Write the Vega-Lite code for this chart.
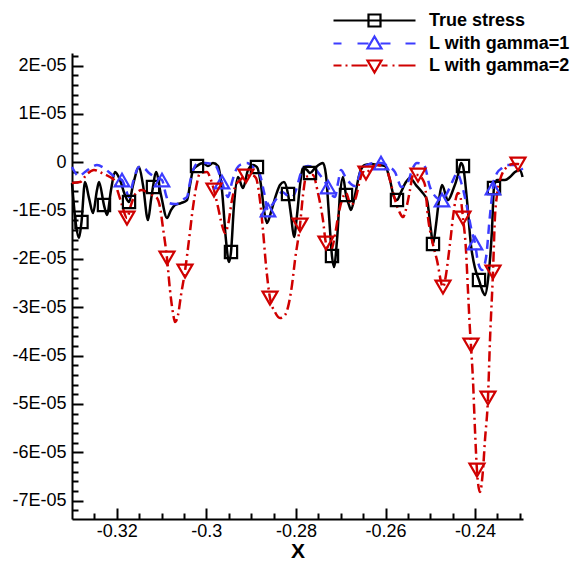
{
  "$schema": "https://vega.github.io/schema/vega-lite/v6.json",
  "width": 451,
  "height": 466,
  "autosize": {"type": "none"},
  "padding": {"left": 72, "top": 53, "right": 47, "bottom": 44},
  "background": "white",
  "config": {"view": {"stroke": null}, "font": "Liberation Sans"},
  "datasets": {
    "ts": [
      {"x":-0.33,"y":-0.430e-5},{"x":-0.32911,"y":-1.299e-5},{"x":-0.32844,"y":-1.568e-5},{"x":-0.32788,"y":-1.237e-5,"m":1},
      {"x":-0.32710,"y":-0.410e-5},{"x":-0.32620,"y":-0.741e-5},{"x":-0.32531,"y":-1.051e-5},{"x":-0.32442,"y":-0.575e-5},
      {"x":-0.32397,"y":-0.410e-5},{"x":-0.32286,"y":-0.886e-5,"m":1},{"x":-0.32219,"y":-1.092e-5},{"x":-0.32129,"y":-0.575e-5},
      {"x":-0.32040,"y":-0.203e-5},{"x":-0.31928,"y":-0.368e-5},{"x":-0.31817,"y":-0.679e-5},{"x":-0.31727,"y":-0.824e-5,"m":1},
      {"x":-0.31638,"y":-0.472e-5},{"x":-0.31504,"y":-0.099e-5},{"x":-0.31415,"y":-0.472e-5},{"x":-0.31303,"y":-1.196e-5},
      {"x":-0.31236,"y":-0.782e-5},{"x":-0.31192,"y":-0.513e-5,"m":1},{"x":-0.31125,"y":-0.203e-5},{"x":-0.31013,"y":-0.679e-5},
      {"x":-0.30879,"y":-1.155e-5},{"x":-0.30790,"y":-0.989e-5},{"x":-0.30700,"y":-0.886e-5},{"x":-0.30566,"y":-0.844e-5},
      {"x":-0.30432,"y":-0.782e-5},{"x":-0.30365,"y":-0.472e-5},{"x":-0.30298,"y":-0.161e-5},{"x":-0.30209,"y":-0.079e-5,"m":1},
      {"x":-0.30075,"y":-0.017e-5},{"x":-0.29964,"y":-0.079e-5},{"x":-0.29852,"y":-0.017e-5},{"x":-0.29740,"y":-0.079e-5},
      {"x":-0.29651,"y":-0.575e-5},{"x":-0.29562,"y":-1.610e-5},{"x":-0.29495,"y":-2.065e-5},{"x":-0.29450,"y":-1.858e-5,"m":1},
      {"x":-0.29383,"y":-0.886e-5},{"x":-0.29294,"y":-0.306e-5},{"x":-0.29182,"y":-0.534e-5},{"x":-0.29070,"y":-0.161e-5},
      {"x":-0.28959,"y":-0.058e-5},{"x":-0.28870,"y":-0.099e-5,"m":1},{"x":-0.28780,"y":-0.472e-5},{"x":-0.28713,"y":-0.989e-5},
      {"x":-0.28646,"y":-1.258e-5},{"x":-0.28557,"y":-1.030e-5},{"x":-0.28445,"y":-0.679e-5},{"x":-0.28356,"y":-0.472e-5},
      {"x":-0.28267,"y":-0.410e-5},{"x":-0.28177,"y":-0.658e-5,"m":1},{"x":-0.28110,"y":-1.092e-5},{"x":-0.28043,"y":-1.548e-5},
      {"x":-0.27976,"y":-1.092e-5},{"x":-0.27909,"y":-0.472e-5},{"x":-0.27842,"y":-0.120e-5},{"x":-0.27753,"y":-0.161e-5},
      {"x":-0.27686,"y":-0.223e-5,"m":1},{"x":-0.27575,"y":-0.120e-5},{"x":-0.27463,"y":-0.037e-5},{"x":-0.27396,"y":-0.017e-5},
      {"x":-0.27329,"y":-0.265e-5},{"x":-0.27262,"y":-1.092e-5},{"x":-0.27195,"y":-1.941e-5,"m":1},{"x":-0.27150,"y":-2.168e-5},
      {"x":-0.27083,"y":-1.610e-5},{"x":-0.27016,"y":-0.679e-5},{"x":-0.26949,"y":-0.306e-5},{"x":-0.26882,"y":-0.679e-5,"m":1},
      {"x":-0.26815,"y":-0.886e-5},{"x":-0.26771,"y":-0.989e-5},{"x":-0.26681,"y":-0.679e-5},{"x":-0.26570,"y":-0.203e-5},
      {"x":-0.26458,"y":-0.058e-5},{"x":-0.26302,"y":-0.037e-5},{"x":-0.26168,"y":-0.058e-5},{"x":-0.26012,"y":-0.079e-5},
      {"x":-0.25900,"y":-0.368e-5},{"x":-0.25811,"y":-0.720e-5},{"x":-0.25744,"y":-0.782e-5,"m":1},{"x":-0.25654,"y":-0.617e-5},
      {"x":-0.25543,"y":-0.410e-5},{"x":-0.25453,"y":-0.327e-5},{"x":-0.25320,"y":-0.472e-5},{"x":-0.25186,"y":-0.617e-5},
      {"x":-0.25074,"y":-0.782e-5},{"x":-0.24985,"y":-1.403e-5},{"x":-0.24940,"y":-1.693e-5,"m":1},{"x":-0.24873,"y":-1.299e-5},
      {"x":-0.24806,"y":-0.782e-5},{"x":-0.24739,"y":-0.472e-5},{"x":-0.24605,"y":-0.782e-5},{"x":-0.24493,"y":-0.575e-5},
      {"x":-0.24382,"y":-0.265e-5},{"x":-0.24315,"y":-0.017e-5},{"x":-0.24270,"y":-0.079e-5,"m":1},{"x":-0.24181,"y":-0.782e-5},
      {"x":-0.24092,"y":-1.713e-5},{"x":-0.24002,"y":-2.189e-5},{"x":-0.23913,"y":-2.437e-5,"m":1},{"x":-0.23824,"y":-2.686e-5},
      {"x":-0.23779,"y":-2.748e-5},{"x":-0.23712,"y":-2.437e-5},{"x":-0.23623,"y":-1.403e-5},{"x":-0.23578,"y":-0.534e-5,"m":1},
      {"x":-0.23511,"y":-0.368e-5},{"x":-0.23444,"y":-0.368e-5},{"x":-0.23332,"y":-0.368e-5},{"x":-0.23221,"y":-0.306e-5},
      {"x":-0.23109,"y":-0.203e-5},{"x":-0.22998,"y":-0.161e-5},{"x":-0.22940,"y":-0.306e-5}
    ],
    "g1": [
      {"x":-0.33,"y":-0.099e-5},{"x":-0.32844,"y":-0.286e-5},{"x":-0.32710,"y":-0.203e-5},{"x":-0.32553,"y":-0.099e-5},
      {"x":-0.32442,"y":-0.058e-5},{"x":-0.32286,"y":-0.120e-5},{"x":-0.32152,"y":-0.223e-5},{"x":-0.32040,"y":-0.306e-5},
      {"x":-0.31884,"y":-0.368e-5,"m":1},{"x":-0.31794,"y":-0.575e-5},{"x":-0.31727,"y":-0.720e-5},{"x":-0.31638,"y":-0.410e-5},
      {"x":-0.31504,"y":-0.099e-5},{"x":-0.31392,"y":-0.120e-5},{"x":-0.31281,"y":-0.223e-5},{"x":-0.31147,"y":-0.306e-5},
      {"x":-0.30991,"y":-0.368e-5,"m":1},{"x":-0.30901,"y":-0.679e-5},{"x":-0.30834,"y":-0.844e-5},{"x":-0.30700,"y":-0.865e-5},
      {"x":-0.30611,"y":-0.844e-5},{"x":-0.30499,"y":-0.761e-5},{"x":-0.30432,"y":-0.720e-5},{"x":-0.30365,"y":-0.410e-5},
      {"x":-0.30276,"y":-0.120e-5},{"x":-0.30187,"y":-0.017e-5},{"x":-0.30031,"y":-0.017e-5},{"x":-0.29807,"y":-0.058e-5},
      {"x":-0.29651,"y":-0.410e-5,"m":1},{"x":-0.29562,"y":-0.658e-5},{"x":-0.29517,"y":-0.720e-5},{"x":-0.29428,"y":-0.410e-5},
      {"x":-0.29316,"y":-0.120e-5},{"x":-0.29204,"y":-0.037e-5},{"x":-0.29093,"y":-0.017e-5},{"x":-0.28937,"y":-0.120e-5},
      {"x":-0.28803,"y":-0.265e-5},{"x":-0.28713,"y":-0.617e-5},{"x":-0.28624,"y":-0.989e-5,"m":1},{"x":-0.28535,"y":-0.886e-5},
      {"x":-0.28423,"y":-0.741e-5},{"x":-0.28311,"y":-0.617e-5},{"x":-0.28200,"y":-0.679e-5},{"x":-0.28088,"y":-0.720e-5},
      {"x":-0.27999,"y":-0.575e-5},{"x":-0.27954,"y":-0.430e-5},{"x":-0.27842,"y":-0.120e-5},{"x":-0.27731,"y":-0.079e-5},
      {"x":-0.27619,"y":-0.099e-5},{"x":-0.27463,"y":-0.265e-5},{"x":-0.27284,"y":-0.513e-5,"m":1},{"x":-0.27195,"y":-0.679e-5},
      {"x":-0.27128,"y":-0.720e-5},{"x":-0.27061,"y":-0.430e-5},{"x":-0.26994,"y":-0.161e-5},{"x":-0.26905,"y":-0.286e-5},
      {"x":-0.26793,"y":-0.430e-5},{"x":-0.26681,"y":-0.492e-5},{"x":-0.26615,"y":-0.368e-5},{"x":-0.26548,"y":-0.161e-5},
      {"x":-0.26414,"y":-0.058e-5},{"x":-0.26257,"y":-0.017e-5},{"x":-0.26101,"y":-0.017e-5,"m":1},{"x":-0.25945,"y":-0.079e-5},
      {"x":-0.25788,"y":-0.203e-5},{"x":-0.25721,"y":-0.368e-5},{"x":-0.25654,"y":-0.513e-5},{"x":-0.25565,"y":-0.472e-5},
      {"x":-0.25498,"y":-0.410e-5},{"x":-0.25409,"y":-0.161e-5},{"x":-0.25297,"y":-0.017e-5},{"x":-0.25141,"y":-0.058e-5},
      {"x":-0.25007,"y":-0.513e-5},{"x":-0.24873,"y":-0.720e-5},{"x":-0.24739,"y":-0.782e-5,"m":1},{"x":-0.24650,"y":-0.679e-5},
      {"x":-0.24560,"y":-0.513e-5},{"x":-0.24471,"y":-0.327e-5},{"x":-0.24404,"y":-0.223e-5},{"x":-0.24293,"y":-0.472e-5},
      {"x":-0.24181,"y":-0.927e-5},{"x":-0.24069,"y":-1.444e-5},{"x":-0.24002,"y":-1.672e-5,"m":1},{"x":-0.23935,"y":-2.065e-5},
      {"x":-0.23846,"y":-2.230e-5},{"x":-0.23757,"y":-1.982e-5},{"x":-0.23667,"y":-1.092e-5},{"x":-0.23600,"y":-0.534e-5,"m":1},
      {"x":-0.23511,"y":-0.223e-5},{"x":-0.23399,"y":-0.120e-5},{"x":-0.23288,"y":-0.058e-5},{"x":-0.23132,"y":-0.058e-5},
      {"x":-0.22998,"y":-0.099e-5},{"x":-0.22940,"y":-0.161e-5}
    ],
    "g2": [
      {"x":-0.33,"y":-0.430e-5},{"x":-0.32821,"y":-0.410e-5},{"x":-0.32665,"y":-0.244e-5},{"x":-0.32509,"y":-0.161e-5},
      {"x":-0.32330,"y":-0.223e-5},{"x":-0.32152,"y":-0.306e-5},{"x":-0.32062,"y":-0.368e-5},{"x":-0.31973,"y":-0.617e-5},
      {"x":-0.31884,"y":-0.886e-5},{"x":-0.31772,"y":-1.155e-5,"m":1},{"x":-0.31683,"y":-0.886e-5},{"x":-0.31571,"y":-0.637e-5},
      {"x":-0.31437,"y":-0.575e-5},{"x":-0.31259,"y":-0.658e-5},{"x":-0.31102,"y":-0.741e-5},{"x":-0.31035,"y":-0.927e-5},
      {"x":-0.30968,"y":-1.362e-5},{"x":-0.30879,"y":-1.982e-5,"m":1},{"x":-0.30812,"y":-2.644e-5},{"x":-0.30745,"y":-3.120e-5},
      {"x":-0.30700,"y":-3.306e-5},{"x":-0.30633,"y":-3.161e-5},{"x":-0.30566,"y":-2.748e-5},{"x":-0.30477,"y":-2.251e-5,"m":1},
      {"x":-0.30388,"y":-1.610e-5},{"x":-0.30298,"y":-0.927e-5},{"x":-0.30209,"y":-0.430e-5},{"x":-0.30142,"y":-0.223e-5},
      {"x":-0.29986,"y":-0.203e-5},{"x":-0.29897,"y":-0.368e-5},{"x":-0.29830,"y":-0.575e-5,"m":1},{"x":-0.29740,"y":-0.927e-5},
      {"x":-0.29651,"y":-1.299e-5},{"x":-0.29584,"y":-1.465e-5},{"x":-0.29517,"y":-1.299e-5},{"x":-0.29428,"y":-0.782e-5},
      {"x":-0.29361,"y":-0.513e-5},{"x":-0.29249,"y":-0.368e-5},{"x":-0.29115,"y":-0.286e-5,"m":1},{"x":-0.28981,"y":-0.265e-5},
      {"x":-0.28892,"y":-0.327e-5},{"x":-0.28803,"y":-0.782e-5},{"x":-0.28736,"y":-1.403e-5},{"x":-0.28669,"y":-2.127e-5},
      {"x":-0.28579,"y":-2.810e-5,"m":1},{"x":-0.28468,"y":-3.099e-5},{"x":-0.28356,"y":-3.223e-5},{"x":-0.28244,"y":-3.161e-5},
      {"x":-0.28177,"y":-2.996e-5},{"x":-0.28088,"y":-2.541e-5},{"x":-0.28021,"y":-2.024e-5},{"x":-0.27909,"y":-1.299e-5,"m":1},
      {"x":-0.27842,"y":-0.679e-5},{"x":-0.27776,"y":-0.306e-5},{"x":-0.27619,"y":-0.265e-5},{"x":-0.27508,"y":-0.637e-5},
      {"x":-0.27396,"y":-1.196e-5},{"x":-0.27329,"y":-1.672e-5,"m":1},{"x":-0.27217,"y":-1.817e-5},{"x":-0.27128,"y":-1.506e-5},
      {"x":-0.27061,"y":-1.134e-5},{"x":-0.26972,"y":-0.782e-5},{"x":-0.26882,"y":-0.637e-5},{"x":-0.26771,"y":-0.886e-5},
      {"x":-0.26659,"y":-0.720e-5},{"x":-0.26570,"y":-0.368e-5},{"x":-0.26503,"y":-0.203e-5},{"x":-0.26436,"y":-0.223e-5,"m":1},
      {"x":-0.26302,"y":-0.099e-5},{"x":-0.26168,"y":-0.058e-5},{"x":-0.26034,"y":-0.120e-5},{"x":-0.25945,"y":-0.223e-5},
      {"x":-0.25855,"y":-0.534e-5},{"x":-0.25766,"y":-0.844e-5},{"x":-0.25677,"y":-1.051e-5},{"x":-0.25610,"y":-1.134e-5},
      {"x":-0.25520,"y":-0.886e-5},{"x":-0.25453,"y":-0.575e-5},{"x":-0.25386,"y":-0.265e-5},{"x":-0.25275,"y":-0.265e-5,"m":1},
      {"x":-0.25163,"y":-0.368e-5},{"x":-0.25119,"y":-0.472e-5},{"x":-0.25052,"y":-1.134e-5},{"x":-0.24962,"y":-1.610e-5},
      {"x":-0.24851,"y":-2.024e-5},{"x":-0.24717,"y":-2.582e-5,"m":1},{"x":-0.24650,"y":-2.334e-5},{"x":-0.24605,"y":-2.024e-5},
      {"x":-0.24538,"y":-1.506e-5},{"x":-0.24493,"y":-1.134e-5},{"x":-0.24382,"y":-0.637e-5},{"x":-0.24337,"y":-0.679e-5},
      {"x":-0.24270,"y":-1.155e-5,"m":1},{"x":-0.24203,"y":-1.817e-5},{"x":-0.24159,"y":-2.644e-5},{"x":-0.24114,"y":-3.471e-5},
      {"x":-0.24092,"y":-3.782e-5,"m":1},{"x":-0.24047,"y":-4.506e-5},{"x":-0.24002,"y":-5.540e-5},{"x":-0.23958,"y":-6.369e-5,"m":1},
      {"x":-0.23891,"y":-6.824e-5},{"x":-0.23824,"y":-6.369e-5},{"x":-0.23779,"y":-5.747e-5},{"x":-0.23712,"y":-4.878e-5,"m":1},
      {"x":-0.23667,"y":-3.678e-5},{"x":-0.23600,"y":-2.272e-5,"m":1},{"x":-0.23556,"y":-1.134e-5},{"x":-0.23511,"y":-0.679e-5},
      {"x":-0.23444,"y":-0.368e-5},{"x":-0.23288,"y":-0.099e-5},{"x":-0.23154,"y":-0.037e-5},{"x":-0.23042,"y":-0.037e-5,"m":1},
      {"x":-0.22940,"y":-0.058e-5}
    ]
  },
  "encoding": {
    "x": {
      "field": "x", "type": "quantitative",
      "scale": {"domain": [-0.33, -0.2293], "nice": false, "zero": false},
      "axis": {
        "values": [-0.325,-0.32,-0.315,-0.31,-0.305,-0.3,-0.295,-0.29,-0.285,-0.28,-0.275,-0.27,-0.265,-0.26,-0.255,-0.25,-0.245,-0.24,-0.235,-0.23],
        "grid": false,
        "domainColor": "black", "domainWidth": 2,
        "tickColor": "black", "tickWidth": 2,
        "tickSize": {"condition": {"test": "abs(datum.value*50-round(datum.value*50))<1e-6", "value": -11}, "value": -6},
        "labelExpr": "abs(datum.value*50-round(datum.value*50))<1e-6 ? '' + datum.value : ''",
        "labelFont": "Liberation Sans", "labelFontSize": 18, "labelColor": "black",
        "labelPadding": 14, "labelFlush": false, "labelOverlap": false,
        "title": "X", "titleFont": "Liberation Sans", "titleFontSize": 21, "titleFontWeight": "bold",
        "titleColor": "black", "titlePadding": -5
      }
    },
    "y": {
      "field": "y", "type": "quantitative",
      "scale": {"domain": [-7.38e-5, 2.26e-5], "nice": false, "zero": false},
      "axis": {
        "values": [-7.2e-5,-7e-5,-6.8e-5,-6.6e-5,-6.4e-5,-6.2e-5,-6e-5,-5.8e-5,-5.6e-5,-5.4e-5,-5.2e-5,-5e-5,-4.8e-5,-4.6e-5,-4.4e-5,-4.2e-5,-4e-5,-3.8e-5,-3.6e-5,-3.4e-5,-3.2e-5,-3e-5,-2.8e-5,-2.6e-5,-2.4e-5,-2.2e-5,-2e-5,-1.8e-5,-1.6e-5,-1.4e-5,-1.2e-5,-1e-5,-0.8e-5,-0.6e-5,-0.4e-5,-0.2e-5,0,0.2e-5,0.4e-5,0.6e-5,0.8e-5,1e-5,1.2e-5,1.4e-5,1.6e-5,1.8e-5,2e-5,2.2e-5],
        "grid": false,
        "domainColor": "black", "domainWidth": 2,
        "tickColor": "black", "tickWidth": 2,
        "tickSize": {"condition": {"test": "abs(datum.value*1e5-round(datum.value*1e5))<0.01", "value": -11}, "value": -6},
        "labelExpr": "abs(datum.value*1e5-round(datum.value*1e5))<0.01 ? (abs(datum.value)<1e-9 ? '0' : (datum.value<0 ? '-' : '') + abs(round(datum.value*1e5)) + 'E-05') : ''",
        "labelFont": "Liberation Sans", "labelFontSize": 18, "labelColor": "black",
        "labelPadding": 17, "labelFlush": false, "labelOverlap": false,
        "title": null
      }
    }
  },
  "layer": [
    {"data": {"name": "ts"}, "mark": {"type": "line", "interpolate": "monotone", "color": "black", "strokeWidth": 2.5}},
    {"data": {"name": "g1"}, "mark": {"type": "line", "interpolate": "monotone", "color": "#3c3cff", "strokeWidth": 2.5, "strokeDash": [9, 6]}},
    {"data": {"name": "g2"}, "mark": {"type": "line", "interpolate": "monotone", "color": "#d00000", "strokeWidth": 2.5, "strokeDash": [10, 4, 2, 4]}},
    {"data": {"name": "ts"}, "transform": [{"filter": "datum.m == 1"}], "mark": {"type": "point", "shape": "square", "size": 150, "filled": false, "color": "black", "strokeWidth": 2.2, "opacity": 1}},
    {"data": {"name": "g1"}, "transform": [{"filter": "datum.m == 1"}], "mark": {"type": "point", "shape": "triangle-up", "size": 210, "filled": false, "color": "#3c3cff", "strokeWidth": 2.2, "opacity": 1}},
    {"data": {"name": "g2"}, "transform": [{"filter": "datum.m == 1"}], "mark": {"type": "point", "shape": "triangle-down", "size": 225, "filled": false, "color": "#d00000", "strokeWidth": 2.2, "opacity": 1}},
    {
      "data": {"values": [{"s": "True stress"}, {"s": "L with gamma=1"}, {"s": "L with gamma=2"}]},
      "transform": [{"filter": "false"}],
      "mark": {"type": "point", "filled": false, "size": 400, "strokeWidth": 2, "opacity": 1},
      "encoding": {
        "x": {"value": 0}, "y": {"value": 0},
        "color": {
          "field": "s", "type": "nominal",
          "scale": {"domain": ["True stress", "L with gamma=1", "L with gamma=2"], "range": ["black", "#3c3cff", "#d00000"]},
          "legend": {"orient": "none", "legendX": 291, "legendY": -44, "direction": "vertical", "title": null,
            "labelFont": "Liberation Sans", "labelFontSize": 18, "labelFontWeight": "bold", "labelColor": "black",
            "labelOffset": 43, "rowPadding": 1, "symbolSize": 400, "symbolStrokeWidth": 2.2, "padding": 0}
        },
        "shape": {
          "field": "s", "type": "nominal",
          "scale": {"domain": ["True stress", "L with gamma=1", "L with gamma=2"],
            "range": [
              "M-4.1,0H4.1M-0.6,-0.6H0.6V0.6H-0.6Z",
              "M-4.1,0H-3.3M-1.7,0H-0.6M0.6,0H1.6M3.1,0H4.1M0,-0.7L0.7,0.5L-0.7,0.5Z",
              "M-4.1,0H-3.3M-2.9,0H-2.7M-2.3,0H-0.7M0.7,0H1.3M1.8,0H2.0M2.4,0H4.1M-0.7,-0.5H0.7L0,0.7Z"
            ]},
          "legend": {"orient": "none", "legendX": 291, "legendY": -44, "direction": "vertical", "title": null,
            "labelFont": "Liberation Sans", "labelFontSize": 18, "labelFontWeight": "bold", "labelColor": "black",
            "labelOffset": 43, "rowPadding": 1, "symbolSize": 400, "symbolStrokeWidth": 2.2, "padding": 0}
        }
      }
    }
  ]
}
